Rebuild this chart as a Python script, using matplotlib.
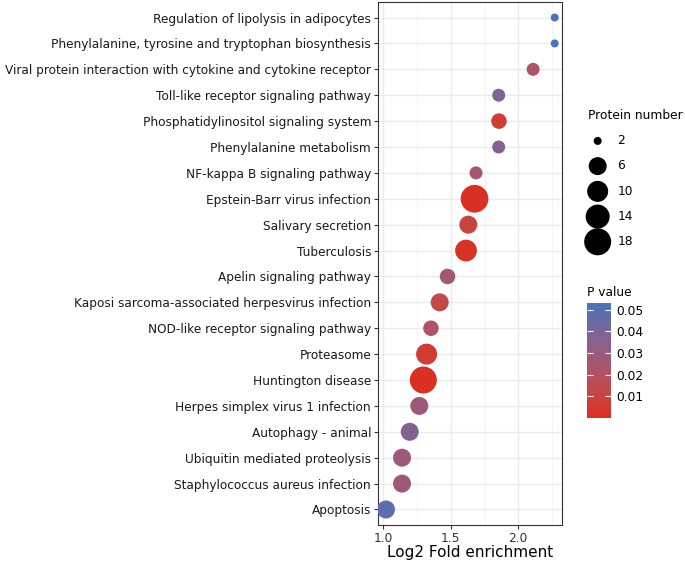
import numpy as np
import matplotlib
matplotlib.use("Agg")
import matplotlib.pyplot as plt
from matplotlib.colors import LinearSegmentedColormap, Normalize

pathways = [
    "Regulation of lipolysis in adipocytes",
    "Phenylalanine, tyrosine and tryptophan biosynthesis",
    "Viral protein interaction with cytokine and cytokine receptor",
    "Toll-like receptor signaling pathway",
    "Phosphatidylinositol signaling system",
    "Phenylalanine metabolism",
    "NF-kappa B signaling pathway",
    "Epstein-Barr virus infection",
    "Salivary secretion",
    "Tuberculosis",
    "Apelin signaling pathway",
    "Kaposi sarcoma-associated herpesvirus infection",
    "NOD-like receptor signaling pathway",
    "Proteasome",
    "Huntington disease",
    "Herpes simplex virus 1 infection",
    "Autophagy - animal",
    "Ubiquitin mediated proteolysis",
    "Staphylococcus aureus infection",
    "Apoptosis",
]
log2_fe = [2.27, 2.27, 2.11, 1.855, 1.857, 1.855, 1.687, 1.676, 1.63, 1.613,
           1.476, 1.418, 1.353, 1.321, 1.297, 1.267, 1.196, 1.139, 1.139, 1.02]
protein_num = [2, 2, 4, 4, 5, 4, 4, 19, 6, 11, 5, 6, 5, 10, 18, 6, 6, 6, 6, 6]
p_value = [0.053, 0.053, 0.022, 0.037, 0.006, 0.037, 0.025, 0.0005, 0.01, 0.002,
           0.026, 0.013, 0.021, 0.006, 0.0008, 0.028, 0.037, 0.028, 0.028, 0.048]

legend_sizes = [2, 6, 10, 14, 18]
legend_diam_px = [8, 18, 21, 24, 27]
pval_ticks = [0.01, 0.02, 0.03, 0.04, 0.05]

def size_of(n):
    d = np.interp(n, legend_sizes, legend_diam_px, right=legend_diam_px[-1] + (n - 18) * 0.7)
    return (d * 0.72) ** 2

cmap = LinearSegmentedColormap.from_list(
    "pv", [(0.0, "#DC2E22"), (0.19, "#C8443F"), (0.38, "#B25262"), (0.57, "#975C7E"),
           (0.75, "#7B6598"), (0.94, "#5570B2"), (1.0, "#4A75BA")])
norm = Normalize(vmin=0.0, vmax=max(p_value))

fig = plt.figure(figsize=(6.85, 5.66), dpi=100)
ax = fig.add_axes([378 / 685, 41 / 566, 184 / 685, 523 / 566])

y = np.arange(len(pathways))[::-1]
sizes = [size_of(n) for n in protein_num]
sc = ax.scatter(log2_fe, y, s=sizes, c=p_value, cmap=cmap, norm=norm,
                edgecolors="none", zorder=3)

ax.set_yticks(y)
ax.set_yticklabels(pathways, fontsize=8.7, color="#1a1a1a")
ax.set_ylim(-0.6, len(pathways) - 0.4)
ax.set_xlim(0.961, 2.324)
ax.set_xticks([1.0, 1.5, 2.0])
ax.set_xticklabels(["1.0", "1.5", "2.0"], fontsize=8.8, color="#333333")
ax.set_xticks([1.25, 1.75, 2.25], minor=True)
ax.grid(which="major", color="#EBEBEB", lw=1.0, zorder=0)
ax.grid(which="minor", axis="x", color="#F2F2F2", lw=0.6, zorder=0)
ax.set_axisbelow(True)
ax.tick_params(axis="both", which="major", length=3, color="#333333", width=0.8, pad=2)
ax.tick_params(axis="x", which="minor", length=0)
for s in ax.spines.values():
    s.set_color("#333333")
    s.set_linewidth(0.8)
ax.set_xlabel("Log2 Fold enrichment", fontsize=11, labelpad=0)

handles = [ax.scatter([], [], s=size_of(n), color="black", edgecolors="none") for n in legend_sizes]
leg = fig.legend(handles, [str(n) for n in legend_sizes], title="Protein number",
                 loc="upper left", bbox_to_anchor=(583 / 685, 1 - 104 / 566),
                 frameon=False, fontsize=8.8, title_fontsize=8.8,
                 labelspacing=1.0, handlelength=1.6, handletextpad=0.8,
                 borderaxespad=0)
leg._legend_box.align = "left"

cax = fig.add_axes([587 / 685, 148 / 566, 24 / 685, 115 / 566])
cb = fig.colorbar(sc, cax=cax, ticks=pval_ticks)
cb.outline.set_visible(False)
cb.ax.set_yticklabels([f"{t:.2f}" for t in pval_ticks], fontsize=8.8)
cb.ax.tick_params(length=4, color="white", width=0.8, direction="in", left=True, right=True)
fig.text(587 / 685, 1 - 292 / 566, "P value", fontsize=8.8, va="center", ha="left")

fig.savefig("out.png", dpi=100)
